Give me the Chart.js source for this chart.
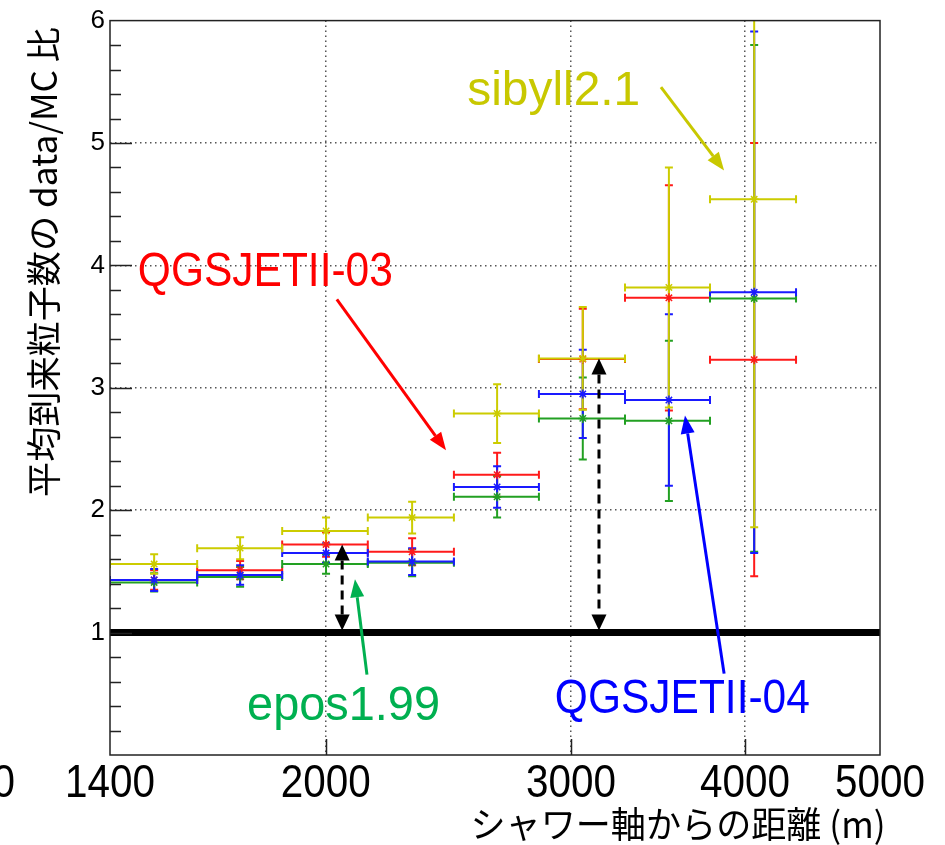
<!DOCTYPE html>
<html>
<head>
<meta charset="utf-8">
<script src="https://cdn.jsdelivr.net/npm/chart.js@4.4.1/dist/chart.umd.min.js"></script>
<style>
  html, body { margin: 0; padding: 0; background: #fff; }
  #wrap { width: 945px; height: 845px; }
</style>
</head>
<body>
<div id="wrap"><canvas id="c" width="945" height="845"></canvas></div>
<script>
// bins in shower-axis distance (m)
const binLow = [1400, 1617, 1861, 2144, 2472, 2845, 3280, 3775];
const binHigh = [1617, 1861, 2144, 2472, 2845, 3280, 3775, 4352];
const binCenter = [1506, 1736, 2001, 2307, 2655, 3059, 3527, 4061];

// data/MC ratio per model
const sibyllVals = [1.56, 1.69, 1.83, 1.94, 2.79, 3.24, 3.82, 4.54];
const sibyllErrs = [0.08, 0.09, 0.11, 0.13, 0.24, 0.42, 0.98, 2.68];
const qgs03Vals = [1.43, 1.51, 1.72, 1.66, 2.29, 3.235, 3.735, 3.23];
const qgs03Errs = [0.08, 0.075, 0.10, 0.11, 0.18, 0.41, 0.92, 1.77];
const qgs04Vals = [1.43, 1.47, 1.65, 1.58, 2.19, 2.95, 2.90, 3.78];
const qgs04Errs = [0.09, 0.08, 0.08, 0.11, 0.17, 0.36, 0.70, 2.13];
const eposVals = [1.41, 1.455, 1.56, 1.57, 2.11, 2.75, 2.73, 3.73];
const eposErrs = [0.075, 0.08, 0.08, 0.11, 0.17, 0.335, 0.655, 2.07];

const xTicks = [1400, 2000, 3000, 4000, 5000];
const xGrid = [2000, 3000, 4000];
const yLabels = [1, 2, 3, 4, 5, 6];
const yGrid = [2, 3, 4, 5];
const refX = [1400, 5000];
const refY = 1;

const YELLOW = "#cccc00", RED = "#ff1a1a", BLUE = "#1a1aff", GREEN = "#22a022";
const SANS = "'Liberation Sans', Arial, sans-serif";
const CJK = "'Noto Sans CJK JP', 'Noto Sans', sans-serif";

// drawing order for the error bars: red, green, blue, yellow on top
const series = [
  { vals: qgs03Vals, errs: qgs03Errs, color: RED },
  { vals: eposVals, errs: eposErrs, color: GREEN },
  { vals: qgs04Vals, errs: qgs04Errs, color: BLUE },
  { vals: sibyllVals, errs: sibyllErrs, color: YELLOW },
];

// annotations, in data units (w = rendered width in px, the slide font is narrow)
const notes = [
  { text: "sibyll2.1", x: 2527, y: 5.31, w: 173, color: "#c8c800" },
  { text: "QGSJETII-03", x: 1466, y: 3.835, w: 255, color: "#ff0000" },
  { text: "epos1.99", x: 1756, y: 0.284, w: 193, color: "#00b050" },
  { text: "QGSJETII-04", x: 2921, y: 0.34, w: 255, color: "#0000ff" },
];
const arrows = [
  { from: [3481, 5.457], to: [3864, 4.776], color: "#c8c800" },
  { from: [2037, 3.722], to: [2440, 2.489], color: "#ff0000" },
  { from: [2141, 0.657], to: [2099, 1.435], color: "#00b050" },
  { from: [3864, 0.665], to: [3622, 2.773], color: "#0000ff" },
];
const gaps = [
  { x: 2055, y0: 1, y1: 1.72 },
  { x: 3142, y0: 1, y1: 3.24 },
];

function points(vals) {
  return vals.map((v, i) => ({ x: binCenter[i], y: v }));
}

function head(ctx, x0, y0, x1, y1, len, w) {
  const a = Math.atan2(y1 - y0, x1 - x0);
  const bx = x1 - len * Math.cos(a), by = y1 - len * Math.sin(a);
  ctx.beginPath();
  ctx.moveTo(x1, y1);
  ctx.lineTo(bx + (w / 2) * Math.sin(a), by - (w / 2) * Math.cos(a));
  ctx.lineTo(bx - (w / 2) * Math.sin(a), by + (w / 2) * Math.cos(a));
  ctx.closePath();
  ctx.fill();
  return [bx, by];
}

// text squeezed horizontally, anchored by align at (x, y)
function narrowText(ctx, text, x, y, sx, align) {
  ctx.save();
  ctx.translate(x, y);
  ctx.scale(sx, 1);
  ctx.textAlign = align;
  ctx.fillText(text, 0, 0);
  ctx.restore();
}

const errorBars = {
  id: "errorBars",
  beforeDatasetsDraw(chart) {
    const { ctx, chartArea: a, scales: { x, y } } = chart;
    ctx.save();
    ctx.beginPath();
    ctx.rect(a.left, a.top, a.right - a.left, a.bottom - a.top);
    ctx.clip();
    ctx.lineWidth = 2;
    for (const s of series) {
      ctx.strokeStyle = s.color;
      s.vals.forEach((v, i) => {
        const yc = y.getPixelForValue(v);
        const yt = y.getPixelForValue(v + s.errs[i]);
        const yb = y.getPixelForValue(v - s.errs[i]);
        const x0 = x.getPixelForValue(binLow[i]);
        const x1 = x.getPixelForValue(binHigh[i]);
        const xc = x.getPixelForValue(binCenter[i]);
        ctx.beginPath();
        ctx.moveTo(x0, yc); ctx.lineTo(x1, yc);
        ctx.moveTo(x0, yc - 4); ctx.lineTo(x0, yc + 4);
        ctx.moveTo(x1, yc - 4); ctx.lineTo(x1, yc + 4);
        ctx.moveTo(xc, yt); ctx.lineTo(xc, yb);
        ctx.moveTo(xc - 4, yt); ctx.lineTo(xc + 4, yt);
        ctx.moveTo(xc - 4, yb); ctx.lineTo(xc + 4, yb);
        ctx.stroke();
      });
    }
    ctx.restore();
  },
};

const decorations = {
  id: "decorations",
  afterDraw(chart) {
    const { ctx, chartArea: a, scales: { x, y } } = chart;
    ctx.save();

    // frame + inner ticks (ROOT style)
    ctx.strokeStyle = "#222";
    ctx.lineWidth = 1.5;
    ctx.strokeRect(a.left, a.top, a.right - a.left, a.bottom - a.top);
    ctx.beginPath();
    for (let k = 1; k < 30; k++) {
      const py = Math.round(y.getPixelForValue(k / 5)) + 0.5;
      const len = k % 5 === 0 ? 22 : 11;
      ctx.moveTo(a.left, py); ctx.lineTo(a.left + len, py);
    }
    for (const t of xGrid) {
      const px = Math.round(x.getPixelForValue(t)) + 0.5;
      ctx.moveTo(px, a.bottom); ctx.lineTo(px, a.bottom - 16);
    }
    ctx.stroke();

    // x tick labels (narrow slide font)
    ctx.fillStyle = "#000";
    ctx.textBaseline = "alphabetic";
    ctx.font = "47px " + SANS;
    for (const t of xTicks) {
      narrowText(ctx, String(t), x.getPixelForValue(t), 797, 0.86, "center");
    }
    // cut-off label at the far left
    narrowText(ctx, "1000", 15, 797, 0.86, "right");

    // dashed double arrows from 1 up to the data
    ctx.fillStyle = "#000";
    ctx.strokeStyle = "#000";
    for (const g of gaps) {
      const px = x.getPixelForValue(g.x);
      const p0 = y.getPixelForValue(g.y0) - 2;
      const p1 = y.getPixelForValue(g.y1);
      const [, b0] = head(ctx, px, p1, px, p0, 16, 15);
      const [, b1] = head(ctx, px, p0, px, p1, 16, 15);
      ctx.lineWidth = 3;
      ctx.setLineDash([9, 6]);
      ctx.beginPath();
      ctx.moveTo(px, b1); ctx.lineTo(px, b0);
      ctx.stroke();
      ctx.setLineDash([]);
    }

    // coloured arrows
    for (const ar of arrows) {
      const x0 = x.getPixelForValue(ar.from[0]), y0 = y.getPixelForValue(ar.from[1]);
      const x1 = x.getPixelForValue(ar.to[0]), y1 = y.getPixelForValue(ar.to[1]);
      ctx.fillStyle = ar.color;
      ctx.strokeStyle = ar.color;
      const [bx, by] = head(ctx, x0, y0, x1, y1, 18, 14);
      ctx.lineWidth = 3;
      ctx.beginPath();
      ctx.moveTo(x0, y0); ctx.lineTo(bx, by);
      ctx.stroke();
    }

    // model labels
    ctx.font = "49px " + SANS;
    for (const n of notes) {
      ctx.fillStyle = n.color;
      const sx = n.w / ctx.measureText(n.text).width;
      narrowText(ctx, n.text, x.getPixelForValue(n.x), y.getPixelForValue(n.y), sx, "left");
    }

    // axis titles
    ctx.fillStyle = "#000";
    ctx.font = "36px " + CJK;
    const xt = "シャワー軸からの距離 (m)";
    narrowText(ctx, xt, 678, 838, 415 / ctx.measureText(xt).width, "center");

    ctx.font = "35px " + CJK;
    const yt = "平均到来粒子数の data/MC 比";
    const ys = 470 / ctx.measureText(yt).width;
    ctx.save();
    ctx.translate(57, 262);
    ctx.rotate(-Math.PI / 2);
    ctx.scale(ys, 1);
    ctx.textAlign = "center";
    ctx.fillText(yt, 0, 0);
    ctx.restore();

    ctx.restore();
  },
};

function marker(vals, color) {
  return {
    type: "scatter",
    data: points(vals),
    pointStyle: "star",
    pointRadius: 4.5,
    borderWidth: 1.5,
    borderColor: color,
    backgroundColor: color,
  };
}

new Chart(document.getElementById("c"), {
  data: {
    datasets: [
      marker(sibyllVals, YELLOW),
      marker(qgs04Vals, BLUE),
      marker(eposVals, GREEN),
      marker(qgs03Vals, RED),
      {
        type: "line",
        data: refX.map((v) => ({ x: v, y: refY })),
        borderColor: "#000",
        borderWidth: 7,
        pointRadius: 0,
      },
    ],
  },
  options: {
    responsive: false,
    animation: false,
    events: [],
    layout: { padding: { left: 0, right: 65, top: 15, bottom: 0 } },
    plugins: {
      legend: { display: false },
      tooltip: { enabled: false },
    },
    scales: {
      x: {
        type: "logarithmic",
        min: 1400,
        max: 5000,
        afterBuildTicks: (scale) => {
          scale.ticks = xTicks.map((v) => ({ value: v }));
        },
        afterFit: (scale) => {
          scale.height = 90;
        },
        ticks: { display: false, autoSkip: false },
        grid: {
          drawTicks: false,
          lineWidth: 1.5,
          color: (c) => (xGrid.includes(c.tick.value) ? "#555" : "rgba(0,0,0,0)"),
        },
        border: { display: false, dash: [1.5, 3.5] },
      },
      y: {
        min: 0,
        max: 6,
        afterBuildTicks: (scale) => {
          scale.ticks = yLabels.map((v) => ({ value: v }));
        },
        afterFit: (scale) => {
          scale.width = 110;
        },
        ticks: {
          autoSkip: false,
          padding: 5,
          color: "#000",
          font: { family: SANS, size: 26 },
        },
        grid: {
          drawTicks: false,
          lineWidth: 1.5,
          color: (c) => (yGrid.includes(c.tick.value) ? "#555" : "rgba(0,0,0,0)"),
        },
        border: { display: false, dash: [1.5, 3.5] },
      },
    },
  },
  plugins: [errorBars, decorations],
});
</script>
</body>
</html>
